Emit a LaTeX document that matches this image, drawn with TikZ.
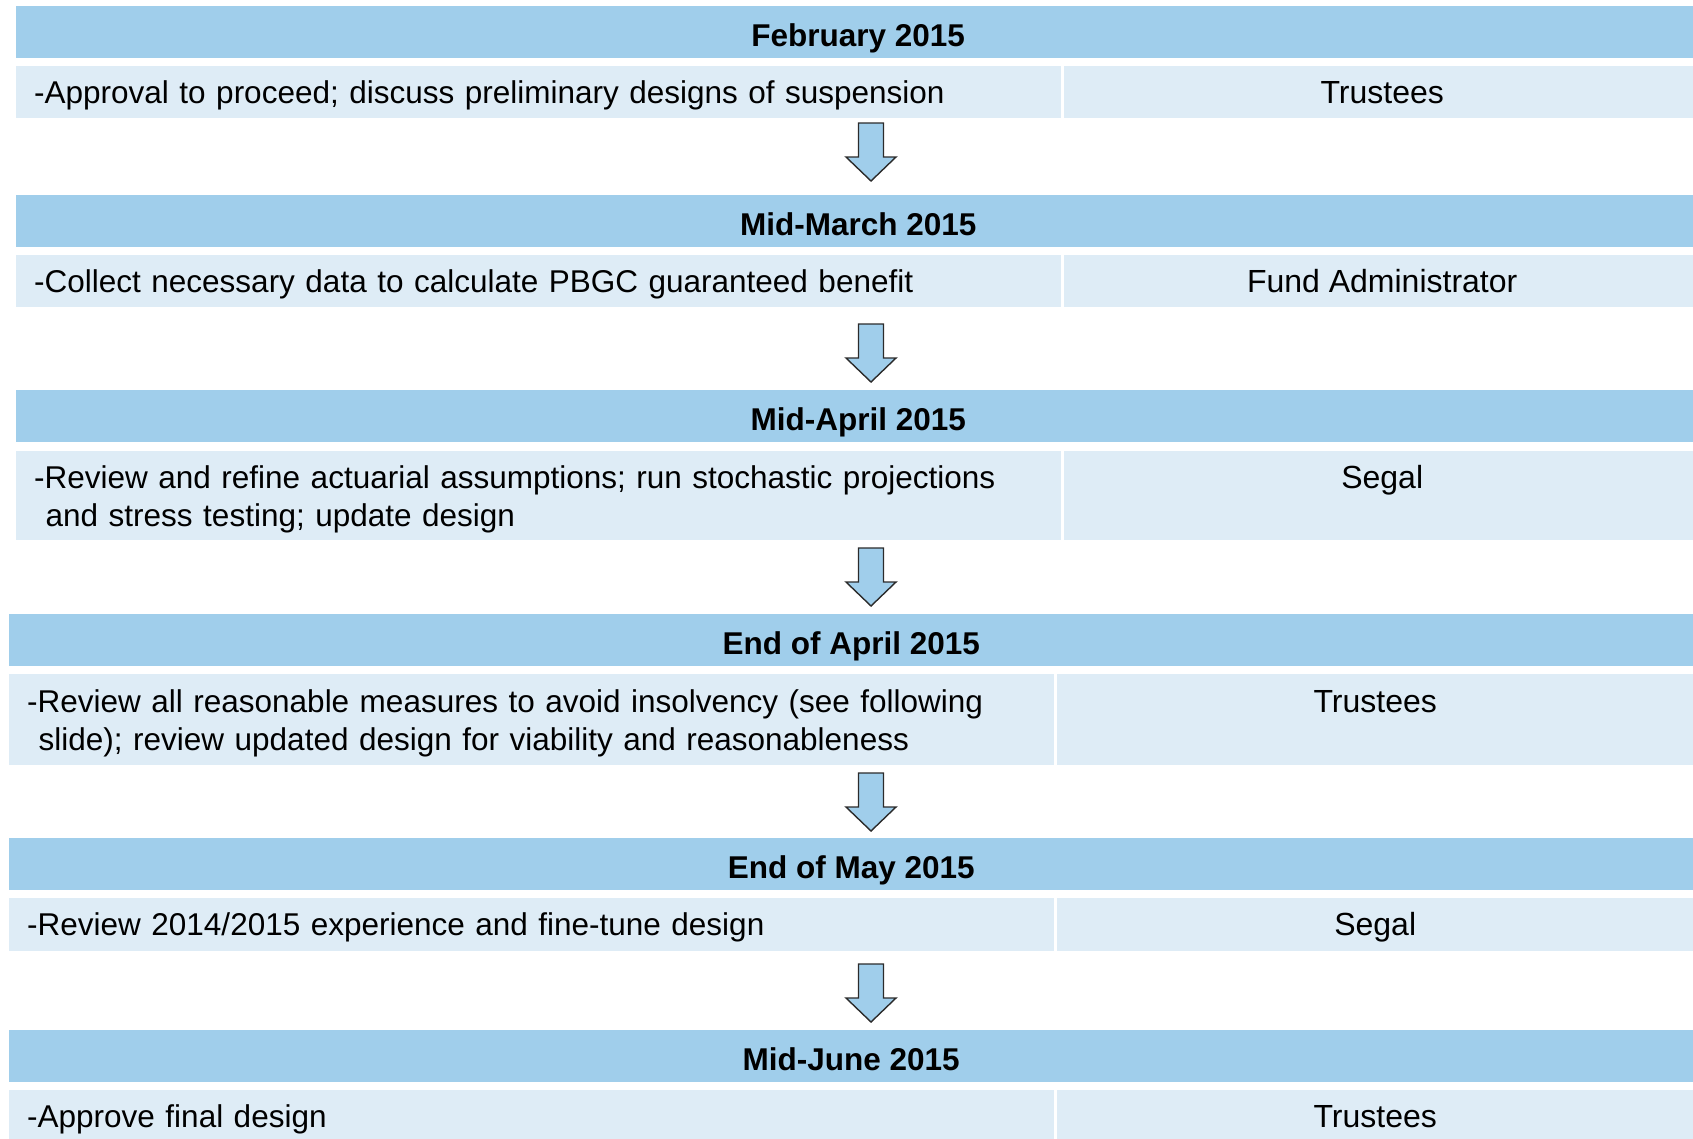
\documentclass[tikz,border=0pt]{standalone}
\usepackage{fontspec}
\setmainfont{Liberation Sans}
\usetikzlibrary{calc}

\definecolor{hdrblue}{HTML}{A0CEEB}
\definecolor{rowblue}{HTML}{DEECF6}
\definecolor{arrowline}{HTML}{2B2B2B}

\tikzset{
  x=1pt, y=-1pt,
  hdrbar/.style={fill=hdrblue, draw=none, inner sep=0pt, anchor=north west,
    minimum width=1684pt, minimum height=52pt},
  taskcell/.style={fill=rowblue, draw=none, inner sep=0pt, anchor=north west,
    minimum width=1045pt},
  whocell/.style={fill=rowblue, draw=none, inner sep=0pt, anchor=north west,
    minimum width=636pt},
  hdrtext/.style={font=\fontsize{31.5}{38}\selectfont\bfseries, inner sep=0pt, anchor=base},
  tasktext/.style={font=\fontsize{31.5}{38.3}\selectfont, inner sep=0pt, anchor=base west,
    text width=1000pt, align=left},
  whotext/.style={font=\fontsize{32}{38.5}\selectfont, inner sep=0pt, anchor=base},
  arrowshape/.style={fill=hdrblue, draw=arrowline, line width=1.4pt, line join=miter},
  pics/downarrow/.style={code={
    \draw[arrowshape] (-12.5,0) -- (12.5,0) -- (12.5,34) -- (25,34) -- (0,58)
      -- (-25,34) -- (-12.5,34) -- cycle;
  }},
}

\begin{document}
\begin{tikzpicture}
\useasboundingbox (0,0) rectangle (1693,1138);
\clip (0,0) rectangle (1693,1138);

% ---- February 2015
\node[hdrbar] (h1) at (16,6) {};
\node[hdrtext] (ht1) at ($(h1.north)+(0,40)$) {February 2015};
\node[taskcell, minimum height=52pt] (l1) at (16,66) {};
\node[whocell, minimum height=52pt] (w1) at (1064,66) {};
\node[tasktext] (lt1) at ($(l1.north west)+(18,37.5)$) {-Approval to proceed; discuss preliminary designs of suspension};
\node[whotext] (wt1) at ($(w1.north)+(0,37.5)$) {Trustees};

\pic (a1) at (871,123) {downarrow};

% ---- Mid-March 2015
\node[hdrbar] (h2) at (16,195) {};
\node[hdrtext] (ht2) at ($(h2.north)+(0,40)$) {Mid-March 2015};
\node[taskcell, minimum height=52pt] (l2) at (16,255) {};
\node[whocell, minimum height=52pt] (w2) at (1064,255) {};
\node[tasktext] (lt2) at ($(l2.north west)+(18,37.5)$) {-Collect necessary data to calculate PBGC guaranteed benefit};
\node[whotext] (wt2) at ($(w2.north)+(0,37.5)$) {Fund Administrator};

\pic (a2) at (871,324) {downarrow};

% ---- Mid-April 2015
\node[hdrbar] (h3) at (16,390) {};
\node[hdrtext] (ht3) at ($(h3.north)+(0,40)$) {Mid-April 2015};
\node[taskcell, minimum height=89pt] (l3) at (16,451) {};
\node[whocell, minimum height=89pt] (w3) at (1064,451) {};
\node[tasktext] (lt3) at ($(l3.north west)+(18,37.5)$) {-Review and refine actuarial assumptions; run stochastic projections\\\hspace*{11.5pt}and stress testing; update design};
\node[whotext] (wt3) at ($(w3.north)+(0,37.5)$) {Segal};

\pic (a3) at (871,548) {downarrow};

% ---- End of April 2015
\node[hdrbar] (h4) at (9,614) {};
\node[hdrtext] (ht4) at ($(h4.north)+(0,40)$) {End of April 2015};
\node[taskcell, minimum height=91pt] (l4) at (9,674) {};
\node[whocell, minimum height=91pt] (w4) at (1057,674) {};
\node[tasktext] (lt4) at ($(l4.north west)+(18,38)$) {-Review all reasonable measures to avoid insolvency (see following\\\hspace*{11.5pt}slide); review updated design for viability and reasonableness};
\node[whotext] (wt4) at ($(w4.north)+(0,38)$) {Trustees};

\pic (a4) at (871,773) {downarrow};

% ---- End of May 2015
\node[hdrbar] (h5) at (9,838) {};
\node[hdrtext] (ht5) at ($(h5.north)+(0,40)$) {End of May 2015};
\node[taskcell, minimum height=53pt] (l5) at (9,898) {};
\node[whocell, minimum height=53pt] (w5) at (1057,898) {};
\node[tasktext] (lt5) at ($(l5.north west)+(18,37.5)$) {-Review 2014/2015 experience and fine-tune design};
\node[whotext] (wt5) at ($(w5.north)+(0,37.5)$) {Segal};

\pic (a5) at (871,964) {downarrow};

% ---- Mid-June 2015
\node[hdrbar] (h6) at (9,1030) {};
\node[hdrtext] (ht6) at ($(h6.north)+(0,40)$) {Mid-June 2015};
\node[taskcell, minimum height=52pt] (l6) at (9,1090) {};
\node[whocell, minimum height=52pt] (w6) at (1057,1090) {};
\node[tasktext] (lt6) at ($(l6.north west)+(18,37.5)$) {-Approve final design};
\node[whotext] (wt6) at ($(w6.north)+(0,37.5)$) {Trustees};
\end{tikzpicture}
\end{document}
